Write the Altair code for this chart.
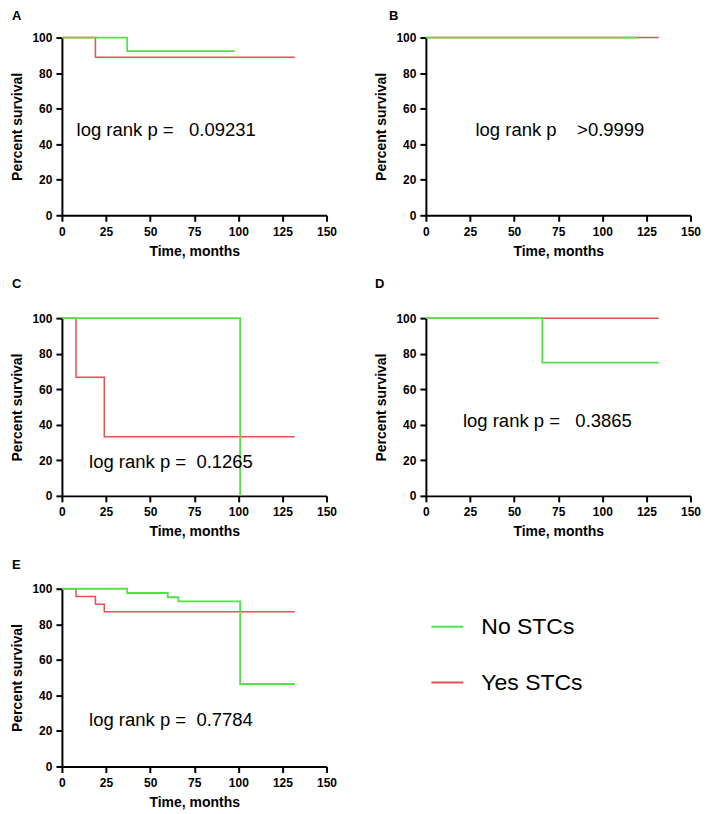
import altair as alt
import pandas as pd

groups = ["No STCs", "Yes STCs"]
colors = ["#55e04a", "#e0524f"]

# survival curves (time in months, percent survival)
a_no_t = [0, 37, 98]
a_no_s = [100, 92.3, 92.3]
a_yes_t = [0, 19, 132]
a_yes_s = [100, 88.9, 88.9]

b_no_t = [0, 120]
b_no_s = [100, 100]
b_yes_t = [0, 132]
b_yes_s = [100, 100]

c_no_t = [0, 101]
c_no_s = [100, 0]
c_yes_t = [0, 8, 24, 132]
c_yes_s = [100, 66.7, 33.3, 33.3]

d_no_t = [0, 66, 132]
d_no_s = [100, 75, 75]
d_yes_t = [0, 132]
d_yes_s = [100, 100]

e_no_t = [0, 37, 60, 66, 101, 132]
e_no_s = [100, 97.6, 95.2, 92.9, 46.4, 46.4]
e_yes_t = [0, 8, 19, 24, 132]
e_yes_s = [100, 95.7, 91.3, 87.0, 87.0]

panel_letters = ["A", "B", "C", "D", "E"]
p_texts = [
    "log rank p =\u00a0\u00a0\u00a00.09231",
    "log rank p\u00a0\u00a0\u00a0\u00a0>0.9999",
    "log rank p =\u00a0\u00a00.1265",
    "log rank p =\u00a0\u00a0\u00a00.3865",
    "log rank p =\u00a0\u00a00.7784",
]
p_text_t = [8.3, 28.1, 15.4, 21.0, 15.4]
p_text_s = [44.4, 44.6, 15.9, 38.7, 23.0]

x_ticks = [0, 25, 50, 75, 100, 125, 150]
y_ticks = [0, 20, 40, 60, 80, 100]

# letter placement (pixels relative to plot area)
letter_pos = [(-50, -18), (-37, -18), (-50, -30), (-51, -30), (-50, -20)]

W, H = 265, 178


def panel(i, no_t, no_s, yes_t, yes_s):
    df = pd.DataFrame({
        "t": no_t + yes_t,
        "s": no_s + yes_s,
        "g": [groups[0]] * len(no_t) + [groups[1]] * len(yes_t),
    })
    x = alt.X("t:Q", scale=alt.Scale(domain=[0, 150], nice=False),
              axis=alt.Axis(values=x_ticks, title="Time, months", labelFlush=False))
    y = alt.Y("s:Q", scale=alt.Scale(domain=[0, 100], nice=False),
              axis=alt.Axis(values=y_ticks, title="Percent survival"))
    color = alt.Color("g:N", scale=alt.Scale(domain=groups, range=colors),
                      legend=alt.Legend(orient="none", legendX=369, legendY=573,
                                        direction="vertical", title=None,
                                        symbolType="stroke", symbolSize=1024,
                                        symbolStrokeWidth=2, labelFontSize=23,
                                        labelFont="Liberation Sans", labelColor="black",
                                        labelOffset=17, rowPadding=27, padding=0))
    base = alt.Chart(df).encode(x=x, y=y, color=color)
    red = base.mark_line(interpolate="step-after", strokeWidth=1.5).transform_filter(
        alt.datum.g == groups[1])
    green = base.mark_line(interpolate="step-after", strokeWidth=1.8).transform_filter(
        alt.datum.g == groups[0])
    ann_df = pd.DataFrame({"t": [p_text_t[i]], "s": [p_text_s[i]], "label": [p_texts[i]]})
    ann = alt.Chart(ann_df).mark_text(align="left", baseline="alphabetic", fontSize=18.5,
                                      font="Liberation Sans", color="black").encode(
        x=x, y=y, text="label:N")
    let_df = pd.DataFrame({"L": [panel_letters[i]]})
    lx, ly = letter_pos[i]
    let = alt.Chart(let_df).mark_text(align="left", baseline="alphabetic", fontSize=13,
                                      fontWeight="bold", font="Liberation Sans",
                                      color="black").encode(
        x=alt.value(lx), y=alt.value(ly), text="L:N")
    return alt.layer(red, green, ann, let).properties(width=W, height=H)


pA = panel(0, a_no_t, a_no_s, a_yes_t, a_yes_s)
pB = panel(1, b_no_t, b_no_s, b_yes_t, b_yes_s)
pC = panel(2, c_no_t, c_no_s, c_yes_t, c_yes_s)
pD = panel(3, d_no_t, d_no_s, d_yes_t, d_yes_s)
pE = panel(4, e_no_t, e_no_s, e_yes_t, e_yes_s)

row1 = alt.hconcat(pA, pB, spacing=36.5)
row2 = alt.hconcat(pC, pD, spacing=36.5)

chart = alt.vconcat(row1, row2, pE, spacing=20).properties(
    padding={"left": 2, "top": 1, "right": 0, "bottom": 0}
).configure_view(stroke=None).configure_axis(
    domainColor="black", domainWidth=2, tickColor="black", tickWidth=2, tickSize=6,
    labelFont="Liberation Sans", labelFontSize=12, labelFontWeight="bold", labelColor="black",
    titleFont="Liberation Sans", titleFontSize=14, titleFontWeight="bold", titleColor="black",
    grid=False
).configure_axisX(labelPadding=5, titlePadding=7).configure_axisY(labelPadding=4, titlePadding=7)

chart.save("out.html", embed_options={"renderer": "svg", "actions": False})
